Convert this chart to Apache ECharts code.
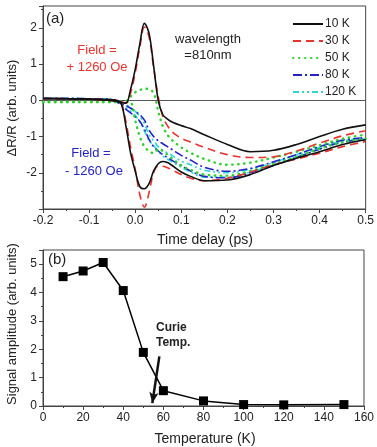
<!DOCTYPE html>
<html>
<head>
<meta charset="utf-8">
<script src="https://cdn.jsdelivr.net/npm/echarts@6/dist/echarts.min.js"></script>
<style>
  html, body { margin: 0; padding: 0; background: #fff; }
  #main { width: 377px; height: 447px; }
</style>
</head>
<body>
<div id="main"></div>
<script>
// panel (a): time axis (ps) shared by all traces
var delay = [-0.2, -0.15, -0.1, -0.06, -0.04, -0.03, -0.02, -0.01, 0, 0.01, 0.02, 0.03, 0.04, 0.05, 0.06, 0.07, 0.08, 0.1, 0.12, 0.15, 0.2, 0.25, 0.3, 0.35, 0.4, 0.45, 0.5];
// + 1260 Oe branch
var k10Plus  = [0.05, 0.04, 0.03, 0.02, 0.0, -0.06, -0.08, 0.3, 0.85, 1.55, 2.12, 1.85, 0.95, 0.0, -0.4, -0.52, -0.6, -0.7, -0.78, -0.95, -1.22, -1.42, -1.38, -1.22, -1.0, -0.8, -0.68];
var k30Plus  = [0.04, 0.04, 0.03, 0.02, 0.0, -0.04, -0.08, 0.2, 0.75, 1.45, 2.02, 1.75, 0.9, 0.1, -0.45, -0.7, -0.87, -1.05, -1.15, -1.3, -1.5, -1.58, -1.56, -1.4, -1.18, -0.98, -0.84];
var k50Plus  = [-0.05, -0.05, -0.05, -0.05, -0.05, -0.05, -0.03, 0.1, 0.22, 0.28, 0.32, 0.3, 0.2, -0.3, -0.72, -0.95, -1.1, -1.3, -1.45, -1.62, -1.78, -1.72, -1.58, -1.42, -1.24, -1.06, -0.95];
var k80Plus  = [0.05, 0.05, 0.04, 0.03, -0.02, -0.1, -0.15, -0.22, -0.3, -0.4, -0.55, -0.82, -1.0, -1.12, -1.2, -1.28, -1.36, -1.52, -1.65, -1.85, -1.96, -1.88, -1.7, -1.5, -1.28, -1.1, -1.04];
var k120Plus = [0.05, 0.05, 0.04, 0.03, 0.0, -0.05, -0.12, -0.2, -0.3, -0.45, -0.65, -0.95, -1.12, -1.28, -1.38, -1.45, -1.52, -1.68, -1.78, -1.93, -2.0, -1.9, -1.72, -1.5, -1.3, -1.12, -1.04];
// - 1260 Oe branch
var k10Minus  = [0.05, 0.04, 0.03, 0.0, -0.03, -0.1, -0.72, -1.45, -1.95, -2.38, -2.44, -2.3, -1.95, -1.75, -1.69, -1.72, -1.8, -1.98, -2.1, -2.22, -2.2, -2.05, -1.8, -1.6, -1.42, -1.22, -1.09];
var k30Minus  = [0.05, 0.04, 0.03, 0.0, -0.03, -0.1, -0.6, -1.3, -1.9, -2.6, -2.95, -2.55, -2.0, -1.82, -1.82, -1.86, -1.92, -2.05, -2.15, -2.22, -2.15, -1.98, -1.78, -1.62, -1.46, -1.28, -1.14];
var k50Minus  = [-0.05, -0.05, -0.05, -0.05, -0.05, -0.05, -0.04, -0.05, -0.55, -1.0, -1.28, -1.4, -1.46, -1.35, -1.4, -1.5, -1.6, -1.8, -1.92, -2.05, -2.08, -1.95, -1.76, -1.56, -1.34, -1.16, -1.06];
var k80Minus  = [0.05, 0.05, 0.04, 0.03, -0.05, -0.15, -0.25, -0.35, -0.45, -0.58, -0.8, -1.08, -1.28, -1.4, -1.5, -1.58, -1.66, -1.8, -1.95, -2.1, -2.14, -2.0, -1.8, -1.58, -1.35, -1.16, -1.08];
var k120Minus = [0.05, 0.05, 0.04, 0.03, -0.03, -0.1, -0.2, -0.3, -0.42, -0.6, -0.85, -1.1, -1.25, -1.4, -1.55, -1.62, -1.7, -1.85, -1.98, -2.12, -2.12, -1.98, -1.78, -1.56, -1.33, -1.14, -1.06];

// panel (b)
var temperature = [10, 20, 30, 40, 50, 60, 80, 100, 120, 150];
var amplitude = [4.56, 4.76, 5.06, 4.07, 1.89, 0.54, 0.18, 0.05, 0.04, 0.05];

var tempNames = ['10 K', '30 K', '50 K', '80 K', '120 K'];
var colors = ['#111111', '#e8332e', '#2fd12f', '#2323c8', '#2fd6d6'];
var dashes = ['solid', [8, 5], [0.5, 5.5], [9, 3, 2, 3], [6, 3, 2, 3, 2, 3]];
var plusSets = [k10Plus, k30Plus, k50Plus, k80Plus, k120Plus];
var minusSets = [k10Minus, k30Minus, k50Minus, k80Minus, k120Minus];

function pairs(xs, ys) {
  return xs.map(function (x, i) { return [x, ys[i]]; });
}

var font = 'Liberation Sans';
var series = [];
for (var i = 0; i < 5; i++) {
  [plusSets[i], minusSets[i]].forEach(function (vals) {
    series.push({
      name: tempNames[i],
      type: 'line',
      xAxisIndex: 0,
      yAxisIndex: 0,
      data: pairs(delay, vals),
      symbol: 'none',
      smooth: 0.35,
      color: colors[i],
      lineStyle: { color: colors[i], width: i === 2 ? 2.4 : 1.6, type: dashes[i], cap: i === 2 ? 'round' : 'butt' },
      z: 10 - i
    });
  });
}
// zero line
series[0].markLine = {
  silent: true,
  symbol: 'none',
  label: { show: false },
  lineStyle: { color: '#555', width: 1, type: 'solid' },
  data: [{ yAxis: 0 }]
};

series.push({
  name: 'amp',
  type: 'line',
  xAxisIndex: 1,
  yAxisIndex: 1,
  data: pairs(temperature, amplitude),
  symbol: 'rect',
  symbolSize: 9,
  color: '#000',
  lineStyle: { color: '#000', width: 1.5 },
  markLine: {
    silent: true,
    symbol: ['none', 'arrow'],
    symbolSize: [7, 11],
    label: { show: false },
    lineStyle: { color: '#111', width: 2.5, type: 'solid' },
    data: [[{ coord: [58, 1.75] }, { coord: [54.5, 0.1] }]]
  }
});

function axisCommon() {
  return {
    axisLine: { show: true, onZero: false, lineStyle: { color: '#444', width: 1 } },
    axisTick: { show: true, inside: false, length: 4, lineStyle: { color: '#444' } },
    minorTick: { show: true, splitNumber: 2, length: 2, lineStyle: { color: '#444' } },
    splitLine: { show: false },
    axisLabel: { color: '#222', fontFamily: font, fontSize: 12, margin: 6 }
  };
}

var xa = axisCommon();
xa.type = 'value'; xa.gridIndex = 0; xa.min = -0.2; xa.max = 0.5; xa.interval = 0.1;
xa.axisLabel.formatter = function (v) { return v.toFixed(1); };
var ya = axisCommon();
ya.type = 'value'; ya.gridIndex = 0; ya.min = -3; ya.max = 2.6; ya.interval = 1;
ya.axisLabel.formatter = function (v) { return (Math.abs(v - Math.round(v)) < 1e-6 && v > -3) ? String(Math.round(v)) : ''; };
var xb = axisCommon();
xb.type = 'value'; xb.gridIndex = 1; xb.min = 0; xb.max = 160; xb.interval = 20;
var yb = axisCommon();
yb.type = 'value'; yb.gridIndex = 1; yb.min = 0; yb.max = 5.5; yb.interval = 1;
yb.axisLabel.formatter = function (v) { return Math.abs(v - Math.round(v)) < 1e-6 ? String(Math.round(v)) : ''; };

function label(text, x, y, opts) {
  opts = opts || {};
  return {
    type: 'text',
    x: x, y: y,
    rotation: opts.rotation || 0,
    z: 100,
    style: {
      text: text,
      fill: opts.color || '#222',
      font: (opts.weight || 'normal') + ' ' + (opts.size || 13) + 'px "' + font + '"',
      textAlign: opts.align || 'center',
      textVerticalAlign: 'middle'
    }
  };
}

var option = {
  animation: false,
  backgroundColor: '#fff',
  grid: [
    { left: 43, top: 6, width: 323, height: 203, show: true, borderColor: '#444', borderWidth: 1, backgroundColor: 'transparent' },
    { left: 43, top: 250, width: 323, height: 156, show: true, borderColor: '#444', borderWidth: 1, backgroundColor: 'transparent' }
  ],
  xAxis: [xa, xb],
  yAxis: [ya, yb],
  legend: {
    data: tempNames,
    orient: 'vertical',
    left: 292,
    top: 18,
    itemWidth: 30,
    itemHeight: 10,
    itemGap: 5,
    padding: 0,
    itemStyle: { opacity: 0 },
    textStyle: { fontFamily: font, fontSize: 12, color: '#222', padding: [0, 0, 0, -3] }
  },
  graphic: [
    label('(a)', 46, 19, { size: 15, align: 'left' }),
    label('wavelength', 208, 39, { size: 13 }),
    label('=810nm', 208, 55, { size: 13 }),
    label('Field =', 97, 50, { size: 13, color: '#e8332e' }),
    label('+ 1260 Oe', 97, 67, { size: 13, color: '#e8332e' }),
    label('Field =', 91, 153, { size: 13, color: '#2323c8' }),
    label('- 1260 Oe', 94, 171, { size: 13, color: '#2323c8' }),
    label('Time delay (ps)', 205, 240, { size: 14 }),
    label('\u0394R/R (arb. units)', 12, 108, { size: 13, rotation: Math.PI / 2 }),
    label('(b)', 48, 260, { size: 15, align: 'left' }),
    label('Curie', 156, 328, { size: 12, weight: 'bold', align: 'left' }),
    label('Temp.', 156, 343, { size: 12, weight: 'bold', align: 'left' }),
    label('Temperature (K)', 205, 439, { size: 14 }),
    label('Signal amplitude (arb. units)', 12, 324, { size: 13, rotation: Math.PI / 2 })
  ],
  series: series
};

var chart = echarts.init(document.getElementById('main'), null, { renderer: 'canvas' });
chart.setOption(option);
</script>
</body>
</html>
